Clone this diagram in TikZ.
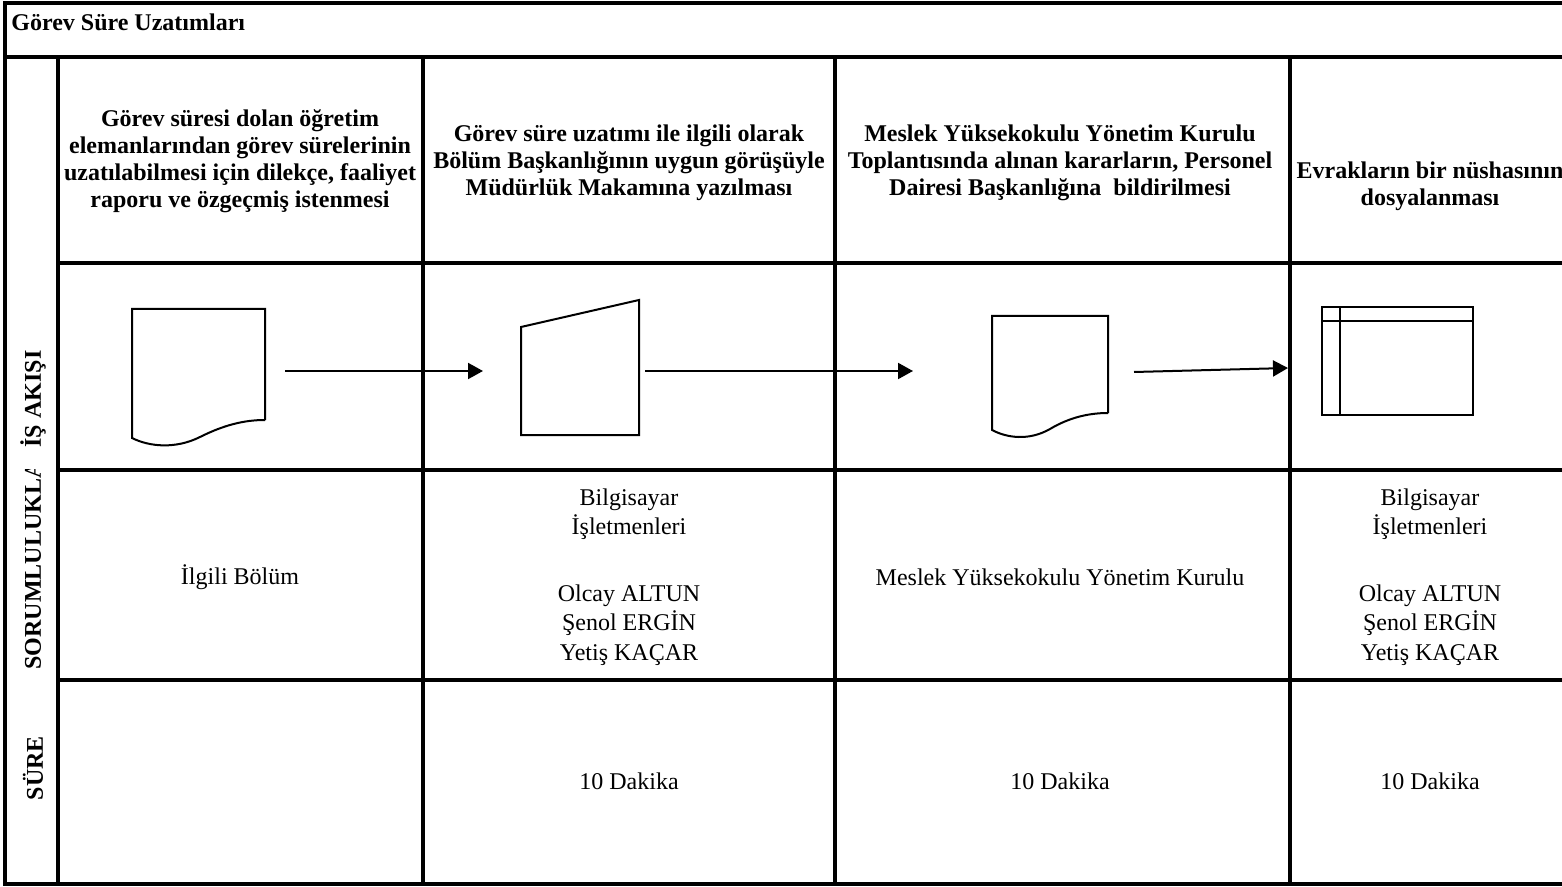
\documentclass[tikz,border=0pt]{standalone}
\usepackage{fontspec}
\setmainfont{Liberation Serif}
\usetikzlibrary{arrows.meta, positioning, calc}

\begin{document}
\begin{tikzpicture}[
        x=0.5pt, y=-0.5pt,
        >={Triangle[length=7.5pt, width=8pt]},
        grid/.style={line width=2pt, black},
        symbol/.style={line width=1pt, black},
        arrow/.style={->, line width=1pt},
        title/.style={font=\bfseries\fontsize{12}{14}\selectfont, anchor=west, inner sep=1pt},
        head/.style={font=\bfseries\fontsize{12}{13.5}\selectfont, align=center},
        cell/.style={font=\fontsize{12}{14.8}\selectfont, align=center},
        side/.style={font=\bfseries\fontsize{12}{14}\selectfont, rotate=90},
    ]

    \useasboundingbox (0,0) rectangle (1562,887);
    \clip (0,0) rectangle (1562,887);

    % ── Table frame ──
    \draw[grid] (1570,3) -- (5,3) -- (5,884) -- (1570,884);
    \draw[grid] (5,57) -- (1570,57);
    \draw[grid] (58,57) -- (58,884);
    \foreach \y in {263, 470, 680}
        \draw[grid] (58,\y) -- (1570,\y);
    \foreach \x in {423, 835, 1290}
        \draw[grid] (\x,57) -- (\x,884);

    % ── Title ──
    \node[title] (title) at (9,22) {Görev Süre Uzatımları};

    % ── Row labels ──
    \node[side] (lflow) at (33,399) {İŞ AKIŞI};
    \begin{scope}
        \clip (8,469) rectangle (56,680);
        \node[side, anchor=west, inner sep=0pt] (lresp) at (33,670) {SORUMLULUKLAR};
    \end{scope}
    \node[side] (ltime) at (33,768) {SÜRE};

    % ── Step headings ──
    \node[head] (h1) at (240,161)
        {Görev süresi dolan öğretim\\elemanlarından görev sürelerinin\\uzatılabilmesi için dilekçe, faaliyet\\raporu ve özgeçmiş istenmesi};
    \node[head] (h2) at (629,163)
        {Görev süre uzatımı ile ilgili olarak\\Bölüm Başkanlığının uygun görüşüyle\\Müdürlük Makamına yazılması};
    \node[head] (h3) at (1060,163)
        {Meslek Yüksekokulu Yönetim Kurulu\\Toplantısında alınan kararların, Personel\\Dairesi Başkanlığına\ \ bildirilmesi};
    \node[head] (h4) at (1430,186)
        {Evrakların bir nüshasının\\dosyalanması};

    % ── Flow symbols ──
    \draw[symbol] (265,420) -- (265,309) -- (132,309) -- (132,438)
        .. controls (150,447) and (176,449) .. (200,437)
        .. controls (224,425) and (244,420) .. (265,420);
    \draw[symbol] (521,327) -- (639,300) -- (639,435) -- (521,435) -- cycle;
    \draw[symbol] (1108,413) -- (1108,316) -- (992,316) -- (992,430)
        .. controls (1007,438) and (1029,441) .. (1050,429)
        .. controls (1070,417) and (1090,413) .. (1108,413);
    \draw[symbol] (1322,307) rectangle (1473,415);
    \draw[symbol] (1322,321) -- (1473,321);
    \draw[symbol] (1340,307) -- (1340,415);

    % ── Arrows ──
    \coordinate (a1s) at (285,371);
    \coordinate (a1e) at (483,371);
    \coordinate (a2s) at (645,371);
    \coordinate (a2e) at (913,371);
    \coordinate (a3s) at (1134,372);
    \coordinate (a3e) at (1288,368);
    \draw[arrow] (a1s) -- (a1e);
    \draw[arrow] (a2s) -- (a2e);
    \draw[arrow] (a3s) -- (a3e);

    % ── Responsibilities ──
    \node[cell] (r1) at (240,577) {İlgili Bölüm};
    \node[cell] (r2) at (629,577)
        {Bilgisayar\\İşletmenleri\\[18.3pt]Olcay ALTUN\\Şenol ERGİN\\Yetiş KAÇAR};
    \node[cell] (r3) at (1060,577) {Meslek Yüksekokulu Yönetim Kurulu};
    \node[cell] (r4) at (1430,577)
        {Bilgisayar\\İşletmenleri\\[18.3pt]Olcay ALTUN\\Şenol ERGİN\\Yetiş KAÇAR};

    % ── Durations ──
    \node[cell] (d2) at (629,781) {10 Dakika};
    \node[cell] (d3) at (1060,781) {10 Dakika};
    \node[cell] (d4) at (1430,781) {10 Dakika};

\end{tikzpicture}
\end{document}
